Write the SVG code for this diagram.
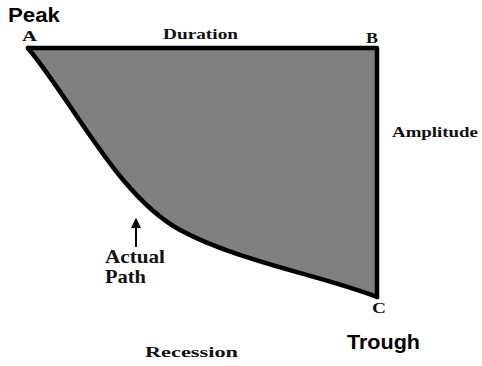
<svg xmlns="http://www.w3.org/2000/svg" width="482" height="366" viewBox="0 0 482 366">
<style>
.serif{font-family:"Liberation Serif","Times New Roman",serif;font-weight:bold;fill:#111;}
.sans{font-family:"Liberation Sans",Arial,sans-serif;font-weight:bold;fill:#000;}
.edge{stroke:#000;stroke-width:4.5;fill:none;stroke-linejoin:round;stroke-linecap:round;}
</style>
<defs>
<marker id="ah" viewBox="0 0 10 10" refX="9" refY="5" markerWidth="5" markerHeight="5" orient="auto">
<path d="M0,0 L10,5 L0,10 z" fill="#000"/>
</marker>
</defs>
<rect width="482" height="366" fill="#fff"/>
<g id="area">
<path d="M28,48 L377,48 L377,297 C320,275 240,262 180,230 C118,196 75,105 28,48 Z" fill="#808080"/>
<path class="edge" d="M28,48 L377,48 L377,297"/>
<path class="edge" d="M28,48 C75,105 118,196 180,230 C240,262 320,275 377,297"/>
</g>
<g id="peak">
<text class="sans" x="8" y="22" font-size="20" textLength="52" lengthAdjust="spacingAndGlyphs">Peak</text>
<text class="serif" x="22" y="41" font-size="14" textLength="15" lengthAdjust="spacingAndGlyphs">A</text>
</g>
<g id="duration">
<text class="serif" x="163" y="39" font-size="14" textLength="75" lengthAdjust="spacingAndGlyphs">Duration</text>
</g>
<g id="b">
<text class="serif" x="366" y="43" font-size="15" textLength="12" lengthAdjust="spacingAndGlyphs">B</text>
</g>
<g id="amplitude">
<text class="serif" x="392" y="137" font-size="14" textLength="86" lengthAdjust="spacingAndGlyphs">Amplitude</text>
</g>
<g id="trough">
<text class="serif" x="372" y="313" font-size="15" textLength="14" lengthAdjust="spacingAndGlyphs">C</text>
<text class="sans" x="347" y="349" font-size="20" textLength="73" lengthAdjust="spacingAndGlyphs">Trough</text>
</g>
<g id="actual-path">
<text class="serif" x="105" y="263" font-size="19" textLength="60" lengthAdjust="spacingAndGlyphs">Actual</text>
<text class="serif" x="105" y="283" font-size="19" textLength="41" lengthAdjust="spacingAndGlyphs">Path</text>
</g>
<g id="recession">
<text class="serif" x="145" y="357" font-size="14" textLength="93" lengthAdjust="spacingAndGlyphs">Recession</text>
</g>
<g id="connectors">
<line x1="136" y1="247" x2="136" y2="219" stroke="#000" stroke-width="2" marker-end="url(#ah)"/>
</g>
</svg>
